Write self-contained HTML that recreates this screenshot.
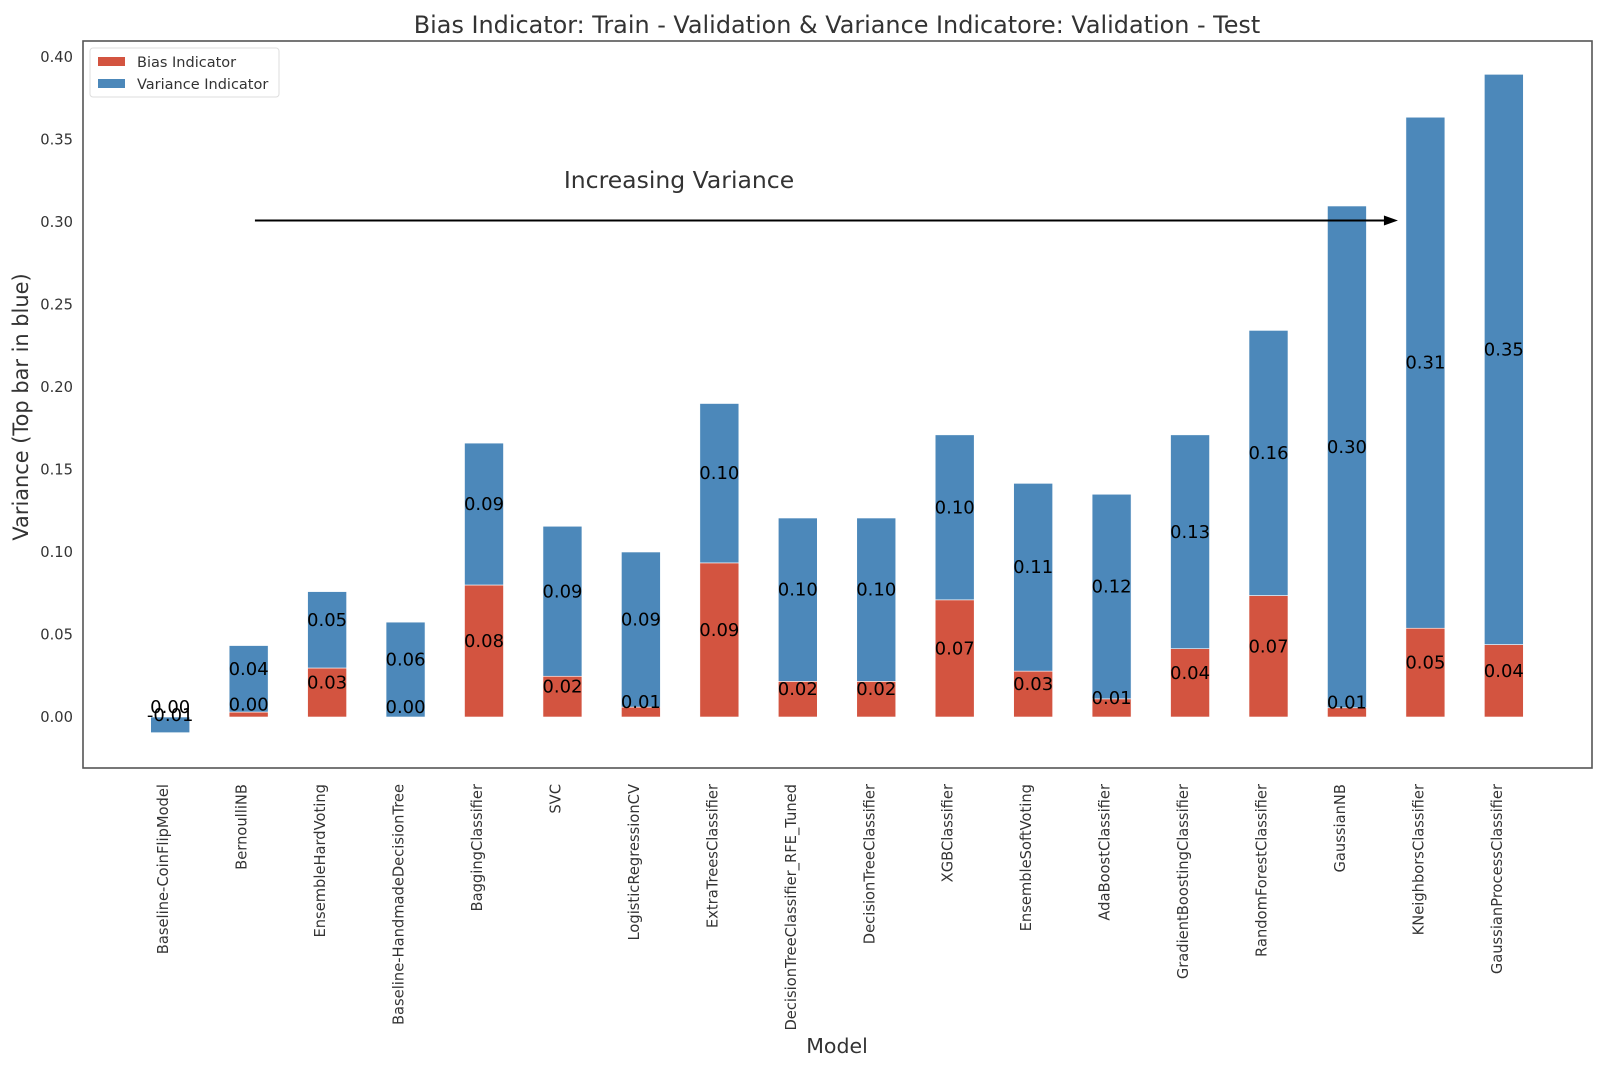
<!DOCTYPE html>
<html><head><meta charset="utf-8"><style>
body{margin:0;background:#fff;}
svg{display:block;font-family:"DejaVu Sans","Liberation Sans",sans-serif;}
</style></head><body>
<svg id="chart" width="1606" height="1066" viewBox="0 0 1606 1066">
<rect width="1606" height="1066" fill="#fff"/>
<text x="837" y="33" text-anchor="middle" font-size="23.9" fill="#333">Bias Indicator: Train - Validation &amp; Variance Indicatore: Validation - Test</text>
<text transform="translate(28,407) rotate(-90)" text-anchor="middle" font-size="20.9" fill="#333">Variance (Top bar in blue)</text>
<text x="837" y="1053" text-anchor="middle" font-size="20.5" fill="#333">Model</text>
<g id="marks"></g>
<rect x="83" y="41" width="1509" height="727" fill="none" stroke="#555" stroke-width="1.6"/>
<g>
<rect x="90" y="48" width="189" height="49" rx="3" fill="#fff" stroke="#ddd"/>
<rect x="98" y="57" width="27" height="9" fill="#d35440"/>
<text x="137" y="67" font-size="14.5" fill="#333">Bias Indicator</text>
<rect x="98" y="79" width="27" height="9" fill="#4c88ba"/>
<text x="137" y="89" font-size="14.5" fill="#333">Variance Indicator</text>
</g>
</svg>
<script>
const categories=["Baseline-CoinFlipModel","BernoulliNB","EnsembleHardVoting","Baseline-HandmadeDecisionTree","BaggingClassifier","SVC","LogisticRegressionCV","ExtraTreesClassifier","DecisionTreeClassifier_RFE_Tuned","DecisionTreeClassifier","XGBClassifier","EnsembleSoftVoting","AdaBoostClassifier","GradientBoostingClassifier","RandomForestClassifier","GaussianNB","KNeighborsClassifier","GaussianProcessClassifier"];
const bias=[0.0,0.003,0.0297,0.0,0.080,0.0247,0.006,0.0934,0.0216,0.0216,0.071,0.0278,0.011,0.0414,0.0736,0.0056,0.0538,0.0439];
const variance=[-0.0095,0.0403,0.0463,0.0575,0.086,0.0909,0.094,0.0966,0.099,0.099,0.1,0.1138,0.124,0.1296,0.1607,0.3041,0.3097,0.3456];
const yTicks=[0,0.05,0.10,0.15,0.20,0.25,0.30,0.35,0.40];
const NS="http://www.w3.org/2000/svg";
const g=document.getElementById('marks');
const y0=717,ppu=1650;
function yS(v){return y0-v*ppu;}
function xS(i){return 170.2+i*78.45;}
const bw=39;
function mk(t,a,p){const e=document.createElementNS(NS,t);for(const k in a)e.setAttribute(k,a[k]);(p||g).appendChild(e);return e;}
yTicks.forEach(t=>{
 const e=mk('text',{x:73,y:yS(t)+5,'text-anchor':'end','font-size':14.7,fill:'#333'});
 
 
 e.textContent=t.toFixed(2);
});
categories.forEach((c,i)=>{
 const x=xS(i);
 const b=bias[i],v=variance[i];
 const rb=mk('rect',{x:x-bw/2,y:Math.min(yS(b),y0),width:bw,height:Math.abs(yS(b)-y0),fill:'#d35440',stroke:'#fff','stroke-width':0.6});
 
 
 const base=v<0?0:b;
 const top=base+v;
 const rv=mk('rect',{x:x-bw/2,y:Math.min(yS(base),yS(top)),width:bw,height:Math.abs(yS(top)-yS(base)),fill:'#4c88ba',stroke:'#fff','stroke-width':0.6});
 
 
 const lb=mk('text',{x:x,y:(yS(b)+y0)/2-4,'text-anchor':'middle','font-size':18,fill:'#000'});
 
 
 lb.textContent=b.toFixed(2);
 const lv=mk('text',{x:x,y:(yS(base)+yS(top))/2-4,'text-anchor':'middle','font-size':18,fill:'#000'});
 
 
 lv.textContent=v.toFixed(2);
 const tl=mk('text',{transform:'translate('+(x-2)+',784) rotate(-90)','text-anchor':'end','font-size':14.7,fill:'#333'});
 
 
 tl.textContent=c;
});
const ay=yS(0.30)-1.5,ax1=xS(1.08),ax2=xS(15.65);
const ln=mk('line',{x1:ax1,y1:ay,x2:ax2-10,y2:ay,stroke:'#000','stroke-width':2});


const hd=mk('polygon',{points:(ax2)+','+ay+' '+(ax2-14)+','+(ay-5)+' '+(ax2-14)+','+(ay+5),fill:'#000'});


const at=mk('text',{x:679,y:188,'text-anchor':'middle','font-size':23.5,fill:'#333'});


at.textContent='Increasing Variance';
</script>
</body></html>
